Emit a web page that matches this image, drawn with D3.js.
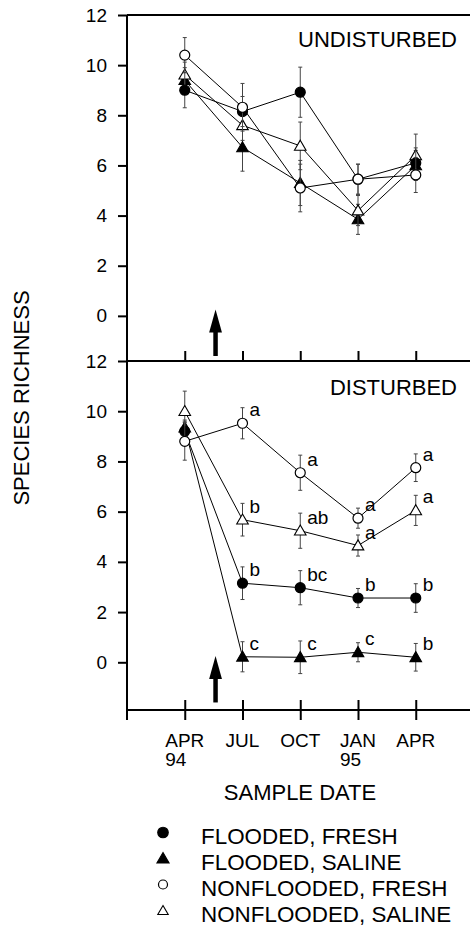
<!DOCTYPE html>
<html>
<head>
<meta charset="utf-8">
<script src="https://cdn.jsdelivr.net/npm/d3@7"></script>
<style>
  body { margin: 0; background: #fff; }
  svg { display: block; font-family: "Liberation Sans", Arial, Helvetica, sans-serif; }
</style>
</head>
<body>
<svg width="470" height="928"></svg>
<script>
// Sample dates, as months counted from Jan 1994
const months = [3, 6, 9, 12, 15];
const monthLabels = ["APR", "JUL", "OCT", "JAN", "APR"];
const yearLabels = ["94", "", "", "95", ""];
const disturbanceMonth = 4.6;
const yTicks = [0, 2, 4, 6, 8, 10, 12];

// Undisturbed plots
const undistFloodedFresh = [9.0, 8.15, 8.92, 5.45, 6.1];
const undistFloodedFreshErr = [0.7, 0.6, 1.0, 0.6, 0.6];
const undistFloodedSaline = [9.4, 6.72, 5.3, 3.85, 6.0];
const undistFloodedSalineErr = [0.5, 0.95, 0.9, 0.6, 0.6];
const undistNonFresh = [10.4, 8.32, 5.1, 5.45, 5.62];
const undistNonFreshErr = [0.7, 0.95, 0.95, 0.6, 0.7];
const undistNonSaline = [9.62, 7.6, 6.78, 4.2, 6.4];
const undistNonSalineErr = [0.5, 0.6, 0.95, 0.6, 0.85];

// Disturbed plots
const distFloodedFresh = [9.2, 3.15, 2.97, 2.56, 2.56];
const distFloodedFreshErr = [0.4, 0.65, 0.68, 0.38, 0.57];
const distFloodedFreshSig = ["", "b", "bc", "b", "b"];
const distFloodedSaline = [9.35, 0.22, 0.2, 0.4, 0.2];
const distFloodedSalineErr = [0.3, 0.6, 0.65, 0.38, 0.55];
const distFloodedSalineSig = ["", "c", "c", "c", "b"];
const distNonFresh = [8.8, 9.52, 7.55, 5.74, 7.75];
const distNonFreshErr = [0.75, 0.62, 0.7, 0.4, 0.55];
const distNonFreshSig = ["", "a", "a", "a", "a"];
const distNonSaline = [10.0, 5.68, 5.24, 4.65, 6.05];
const distNonSalineErr = [0.8, 0.65, 0.7, 0.42, 0.6];
const distNonSalineSig = ["", "b", "ab", "a", "a"];

const legendLabels = ["FLOODED, FRESH", "FLOODED, SALINE", "NONFLOODED, FRESH", "NONFLOODED, SALINE"];

// marker styles, same order as legend
const styles = [
  { shape: "circle", fill: "#000" },
  { shape: "triangle", fill: "#000" },
  { shape: "circle", fill: "#fff" },
  { shape: "triangle", fill: "#fff" }
];
// draw order: filled tri, open tri, filled circle, open circle
const drawOrder = [1, 3, 0, 2];

const svg = d3.select("svg");
const axisX = 127;

const x = d3.scaleLinear().domain([0, 17.8]).range([axisX, axisX + 17.8 * 19.25]);

const panels = [
  {
    title: "UNDISTURBED",
    y: d3.scaleLinear().domain([-1.8, 12]).range([361, 15]),
    values: [undistFloodedFresh, undistFloodedSaline, undistNonFresh, undistNonSaline],
    errs: [undistFloodedFreshErr, undistFloodedSalineErr, undistNonFreshErr, undistNonSalineErr],
    sig: null
  },
  {
    title: "DISTURBED",
    y: d3.scaleLinear().domain([-1.9, 12]).range([710, 361]),
    values: [distFloodedFresh, distFloodedSaline, distNonFresh, distNonSaline],
    errs: [distFloodedFreshErr, distFloodedSalineErr, distNonFreshErr, distNonSalineErr],
    sig: [distFloodedFreshSig, distFloodedSalineSig, distNonFreshSig, distNonSalineSig]
  }
];

function marker(g, style, cx, cy, scale) {
  const k = scale || 1;
  if (style.shape === "circle") {
    g.append("circle").attr("cx", cx).attr("cy", cy).attr("r", 5 * k)
      .attr("fill", style.fill).attr("stroke", "#000").attr("stroke-width", 1.2);
  } else {
    g.append("path")
      .attr("d", d3.symbol(d3.symbolTriangle, 58 * k * k)())
      .attr("transform", `translate(${cx},${cy + 1})`)
      .attr("fill", style.fill).attr("stroke", "#000").attr("stroke-width", 1.1);
  }
}

panels.forEach((p, pi) => {
  const g = svg.append("g");
  const y = p.y;

  // y axis ticks and labels
  g.append("g")
    .attr("transform", `translate(${axisX},0)`)
    .call(d3.axisLeft(y).tickValues(yTicks).tickSize(9).tickPadding(11).tickFormat(d3.format("d")))
    .call(a => a.select(".domain").remove())
    .call(a => a.selectAll("line").attr("stroke", "#000").attr("stroke-width", 2))
    .call(a => a.selectAll("text").attr("font-size", 19).attr("font-family", null).attr("fill", "#000"));

  // top frame line
  g.append("line")
    .attr("x1", axisX).attr("x2", 470)
    .attr("y1", y(12)).attr("y2", y(12))
    .attr("stroke", "#000").attr("stroke-width", 2);

  // panel title
  g.append("text")
    .attr("x", 457).attr("y", y(12) + (pi === 0 ? 32 : 34))
    .attr("text-anchor", "end").attr("font-size", 22)
    .text(p.title);

  // disturbance arrow
  const ax = x(disturbanceMonth);
  const tip = y(0.25), base = y(-1.6);
  g.append("line")
    .attr("x1", ax).attr("x2", ax).attr("y1", tip + 20).attr("y2", base)
    .attr("stroke", "#000").attr("stroke-width", 4.5);
  g.append("path")
    .attr("d", `M${ax},${tip} L${ax + 6.4},${tip + 23} L${ax - 6.4},${tip + 23} Z`)
    .attr("fill", "#000");

  // series
  drawOrder.forEach(si => {
    const vals = p.values[si], errs = p.errs[si], st = styles[si];
    const sg = g.append("g");
    const pts = months.map((m, i) => [x(m), y(vals[i])]);
    sg.append("path")
      .attr("d", d3.line()(pts))
      .attr("fill", "none").attr("stroke", "#000").attr("stroke-width", 1);
    months.forEach((m, i) => {
      const cx = x(m), y0 = y(vals[i] - errs[i]), y1 = y(vals[i] + errs[i]);
      sg.append("line").attr("x1", cx).attr("x2", cx).attr("y1", y0).attr("y2", y1)
        .attr("stroke", "#444").attr("stroke-width", 1);
      [y0, y1].forEach(yy => sg.append("line")
        .attr("x1", cx - 2).attr("x2", cx + 2).attr("y1", yy).attr("y2", yy)
        .attr("stroke", "#444").attr("stroke-width", 1));
    });
    months.forEach((m, i) => marker(sg, st, x(m), y(vals[i])));
    if (p.sig) {
      months.forEach((m, i) => {
        if (!p.sig[si][i]) return;
        sg.append("text")
          .attr("x", x(m) + 7).attr("y", y(vals[i]) - 7)
          .attr("font-size", 19).text(p.sig[si][i]);
      });
    }
  });
});

// y axis line running through both panels
svg.append("line")
  .attr("x1", axisX).attr("x2", axisX)
  .attr("y1", panels[0].y(12)).attr("y2", 720)
  .attr("stroke", "#000").attr("stroke-width", 2);

// x ticks: upward at bottom of top panel, crossing at bottom of lower panel
const midY = panels[0].y.range()[0];
const botY = panels[1].y.range()[0];
svg.append("g")
  .attr("transform", `translate(0,${midY})`)
  .call(d3.axisTop(x).tickValues(months).tickSize(10).tickFormat(""))
  .call(a => a.select(".domain").remove())
  .call(a => a.selectAll("line").attr("stroke", "#000").attr("stroke-width", 2));

svg.append("g")
  .attr("transform", `translate(0,${botY})`)
  .call(d3.axisBottom(x).tickValues(months).tickSize(10).tickFormat(""))
  .call(a => a.select(".domain").remove())
  .call(a => a.selectAll("line").attr("y1", -10).attr("stroke", "#000").attr("stroke-width", 2));

svg.append("line")
  .attr("x1", axisX).attr("x2", 470).attr("y1", botY).attr("y2", botY)
  .attr("stroke", "#000").attr("stroke-width", 2);

// month / year labels
months.forEach((m, i) => {
  const t = svg.append("text")
    .attr("x", x(m)).attr("y", botY + 37)
    .attr("text-anchor", "middle").attr("font-size", 19)
    .text(monthLabels[i]);
  if (yearLabels[i]) {
    const w = t.node().getComputedTextLength();
    svg.append("text")
      .attr("x", x(m) - w / 2).attr("y", botY + 56)
      .attr("font-size", 19).text(yearLabels[i]);
  }
});

svg.append("text")
  .attr("x", 300).attr("y", 800)
  .attr("text-anchor", "middle").attr("font-size", 22)
  .text("SAMPLE DATE");

svg.append("text")
  .attr("transform", "translate(29,398) rotate(-90)")
  .attr("text-anchor", "middle").attr("font-size", 22)
  .text("SPECIES RICHNESS");

// legend
const legend = svg.append("g");
legendLabels.forEach((lab, i) => {
  const by = 844 + i * 26;
  marker(legend, styles[i], 163, by - 11.5, styles[i].fill === "#000" ? 1.05 : 0.9);
  legend.append("text")
    .attr("x", 201).attr("y", by)
    .attr("font-size", 22.4).text(lab);
});
</script>
</body>
</html>
